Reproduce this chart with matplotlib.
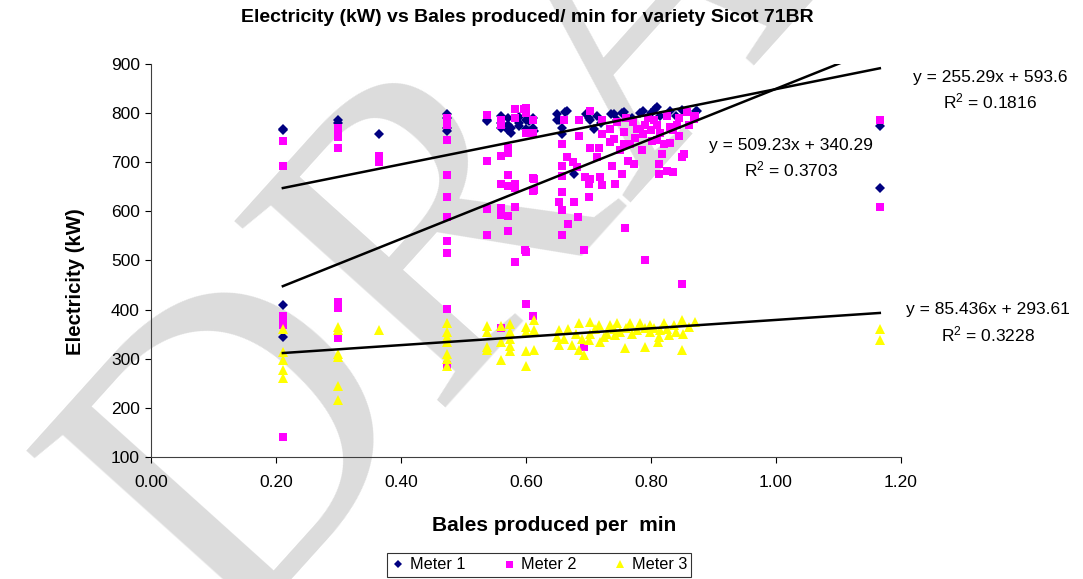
import numpy as np
import matplotlib
matplotlib.use("Agg")
import matplotlib.pyplot as plt

plt.rcParams['font.family'] = ['Liberation Sans', 'DejaVu Sans']
plt.rcParams['mathtext.default'] = 'regular'

# ---- data ----
m1_x = [0.211, 0.211, 0.211, 0.211, 0.299, 0.299, 0.365, 0.474, 0.474, 0.474, 0.474,
        0.538, 0.538, 0.560, 0.560, 0.560, 0.571, 0.571, 0.571, 0.576, 0.576,
        0.588, 0.588, 0.588, 0.600, 0.600, 0.604, 0.604, 0.611, 0.611, 0.612,
        0.650, 0.650, 0.652, 0.657, 0.657, 0.663, 0.665, 0.676, 0.696, 0.701,
        0.703, 0.708, 0.714, 0.720, 0.736, 0.740, 0.745, 0.754, 0.756, 0.770,
        0.783, 0.787, 0.800, 0.807, 0.810, 0.815, 0.830, 0.840, 0.849, 0.872,
        0.874, 1.166, 1.166]
m1_y = [768, 765, 409, 344, 786, 780, 758, 798, 790, 770, 764,
        786, 783, 795, 780, 770, 790, 775, 765, 770, 760,
        792, 780, 773, 768, 785, 783, 764, 790, 770, 764,
        798, 785, 785, 758, 770, 802, 805, 676, 798, 790,
        785, 768, 795, 780, 798, 798, 785, 800, 802, 790,
        800, 805, 800, 808, 812, 795, 805, 795, 807, 805,
        805, 773, 648]

m2_x = [0.211, 0.211, 0.211, 0.211, 0.211, 0.211,
        0.299, 0.299, 0.299, 0.299, 0.299, 0.299, 0.299,
        0.365, 0.365, 0.365,
        0.474, 0.474, 0.474, 0.474, 0.474, 0.474, 0.474, 0.474, 0.474, 0.474, 0.474,
        0.538, 0.538, 0.538, 0.538,
        0.560, 0.560, 0.560, 0.560, 0.560, 0.560, 0.560,
        0.571, 0.571, 0.571, 0.571, 0.571, 0.571,
        0.583, 0.583, 0.583, 0.583, 0.583, 0.583,
        0.596, 0.598, 0.600, 0.600, 0.600, 0.600, 0.600,
        0.611, 0.611, 0.611, 0.611, 0.611, 0.612, 0.612,
        0.652, 0.657, 0.657, 0.657, 0.657, 0.657, 0.657, 0.660, 0.665, 0.667,
        0.675, 0.677, 0.681, 0.683, 0.684, 0.684, 0.692, 0.692, 0.694,
        0.700, 0.700, 0.702, 0.702, 0.702, 0.713, 0.716, 0.718,
        0.721, 0.721, 0.721, 0.734, 0.734, 0.737, 0.740, 0.742, 0.745,
        0.750, 0.753, 0.756, 0.757, 0.758, 0.760, 0.763, 0.766, 0.771, 0.772,
        0.775, 0.777, 0.782, 0.785, 0.787, 0.790, 0.790, 0.795, 0.800, 0.801,
        0.805, 0.809, 0.810, 0.812, 0.812, 0.815, 0.817, 0.820, 0.825, 0.825,
        0.830, 0.830, 0.835, 0.835, 0.841, 0.844, 0.845, 0.849, 0.849, 0.852,
        0.857, 0.860, 0.868, 0.870, 1.166, 1.166]
m2_y = [743, 693, 388, 378, 368, 141,
        770, 765, 752, 728, 415, 403, 342,
        712, 705, 700,
        790, 782, 775, 746, 674, 630, 588, 539, 516, 402, 287,
        797, 703, 605, 551,
        785, 775, 713, 656, 607, 592, 362,
        728, 719, 674, 651, 590, 561,
        808, 790, 655, 648, 609, 497,
        808, 521, 810, 800, 760, 518, 411,
        785, 760, 667, 642, 386, 666, 643,
        619, 737, 693, 673, 639, 602, 552, 785, 710, 575,
        700, 620, 690, 588, 754, 785, 521, 324, 670,
        629, 655, 805, 728, 666, 710, 728, 670,
        653, 758, 785, 741, 768, 693, 748, 656, 781,
        724, 676, 761, 737, 566, 790, 703, 737, 781, 697,
        750, 768, 768, 724, 758, 500, 775, 790, 765, 744,
        785, 775, 745, 697, 676, 760, 717, 737, 683, 795,
        771, 740, 680, 765, 775, 754, 790, 710, 453, 717,
        802, 775, 788, 795, 785, 609]

m3_x = [0.211, 0.211, 0.211, 0.211, 0.211,
        0.299, 0.299, 0.299, 0.299, 0.299, 0.299,
        0.365,
        0.474, 0.474, 0.474, 0.474, 0.474, 0.474, 0.474,
        0.537, 0.537, 0.537, 0.537,
        0.560, 0.560, 0.560,
        0.575, 0.575, 0.575, 0.575, 0.575,
        0.600, 0.600, 0.600, 0.600,
        0.612, 0.612, 0.612,
        0.650, 0.653, 0.653, 0.661, 0.667, 0.673, 0.680, 0.685, 0.685, 0.690,
        0.693, 0.701, 0.702, 0.702, 0.710, 0.716, 0.718, 0.725, 0.729, 0.734,
        0.740, 0.742, 0.745, 0.750, 0.758, 0.760, 0.766, 0.770, 0.777, 0.782,
        0.790, 0.790, 0.798, 0.798, 0.805, 0.811, 0.812, 0.815, 0.821, 0.825,
        0.829, 0.836, 0.840, 0.849, 0.849, 0.851, 0.860, 0.870,
        1.166, 1.166]
m3_y = [360, 314, 297, 278, 260,
        365, 358, 310, 304, 244, 217,
        359,
        372, 355, 345, 334, 310, 300, 285,
        366, 355, 324, 317,
        366, 334, 298,
        370, 355, 340, 325, 315,
        365, 355, 316, 285,
        378, 358, 317,
        345, 358, 327, 341, 361, 327, 350, 372, 317, 340,
        307, 338, 375, 351, 360, 368, 334, 345, 351, 368,
        360, 348, 372, 355, 321, 362, 372, 350, 358, 372,
        324, 362, 368, 355, 362, 334, 344, 358, 372, 360,
        348, 368, 355, 378, 317, 351, 365, 375,
        361, 338]

series_names = ['Meter 1', 'Meter 2', 'Meter 3']
trend_m = [255.29, 509.23, 85.436]
trend_b = [593.6, 340.29, 293.61]
trend_r2 = ['0.1816', '0.3703', '0.3228']
trend_m_txt = ['255.29', '509.23', '85.436']
trend_b_txt = ['593.6', '340.29', '293.61']

# ---- figure ----
fig = plt.figure(figsize=(10.83, 5.79), dpi=100)
ax = fig.add_axes([0.1394, 0.2107, 0.6926, 0.6788])
ax.patch.set_alpha(0)

# DRAFT watermark behind everything
fig.text(225 / 1083, 1 - 640 / 579, 'DRAFT', rotation=48, fontsize=310, color='#dcdcdc',
         family=['Liberation Serif', 'DejaVu Serif'], ha='left', va='baseline',
         rotation_mode='anchor', zorder=-1)

xs = [m1_x, m2_x, m3_x]
ys = [m1_y, m2_y, m3_y]
markers = ['D', 's', '^']
colors = ['#000080', '#FF00FF', '#FFFF00']
sizes = [5.0, 6.3, 6.6]

for x, y, mk, c, s, name in zip(xs, ys, markers, colors, sizes, series_names):
    ax.plot(x, y, linestyle='none', marker=mk, color=c, markersize=s,
            markeredgewidth=0, label=name, zorder=3)

for x, m, b in zip(xs, trend_m, trend_b):
    xx = np.array([min(x), max(x)])
    ax.plot(xx, m * xx + b, color='black', lw=1.8, zorder=4)

ax.set_xlim(0, 1.2)
ax.set_ylim(100, 900)
ax.set_xticks(np.arange(0, 1.21, 0.2))
ax.set_xticklabels(['%.2f' % v for v in np.arange(0, 1.21, 0.2)])
ax.set_yticks(range(100, 901, 100))
ax.tick_params(labelsize=12.5, length=4, width=0.8, direction='out')
ax.tick_params(axis='x', pad=9)
ax.tick_params(axis='y', pad=4)
for s in ['top', 'right']:
    ax.spines[s].set_visible(False)
for s in ['left', 'bottom']:
    ax.spines[s].set_color('#404040')
    ax.spines[s].set_linewidth(0.8)

fig.text(527 / 1083, 1 - 18 / 579,
         'Electricity (kW) vs Bales produced/ min for variety Sicot 71BR',
         fontsize=14, fontweight='bold', ha='center', va='center')
ax.set_xlabel('Bales produced per  min', fontsize=15, fontweight='bold', va='top')
ax.xaxis.set_label_coords(0.537, -0.150)
ax.set_ylabel('Electricity (kW)', fontsize=14.7, fontweight='bold', va='center')
ax.yaxis.set_label_coords(-0.101, 0.445)

# trendline equations
label_pos = [(0.914, 0.867), (0.730, 0.748), (0.912, 0.4646)]
for (fx, fy), m, b, r in zip(label_pos, trend_m_txt, trend_b_txt, trend_r2):
    fig.text(fx, fy, 'y = %sx + %s' % (m, b), fontsize=12.5, ha='center', va='center')
    fig.text(fx, fy - 0.0415, 'R$^2$ = %s' % r, fontsize=12.5, ha='center', va='center')

leg = fig.legend(loc='center', bbox_to_anchor=(0.4977, 0.0242), ncol=3, fontsize=11.7,
                 frameon=True, fancybox=False, edgecolor='black', handlelength=0.9,
                 handletextpad=0.3, columnspacing=2.2, borderpad=0.25, markerscale=0.8)
leg.get_frame().set_linewidth(0.8)

fig.savefig('out.png', dpi=100)
